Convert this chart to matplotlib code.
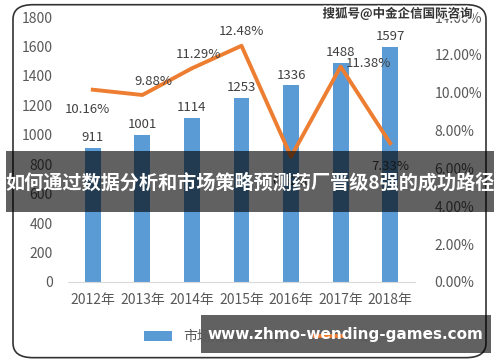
import matplotlib.pyplot as plt
from matplotlib.patches import FancyBboxPatch, Rectangle
import matplotlib.patheffects as pe

plt.rcParams['font.family'] = ['Noto Sans CJK SC', 'DejaVu Sans']

years = ['2012年', '2013年', '2014年', '2015年', '2016年', '2017年', '2018年']
market = [911, 1001, 1114, 1253, 1336, 1488, 1597]
growth = [10.16, 9.88, 11.29, 12.48, 6.62, 11.38, 7.33]
left_ticks = [0, 200, 400, 600, 800, 1000, 1200, 1400, 1600, 1800]
right_ticks = [0, 2, 4, 6, 8, 10, 12, 14]

# label offsets (points) for the growth labels
offsets = [(-4, -14), (8, 10), (5, 10), (0, 10), (0, -18), (20, 2), (0, -17)]

gray = '#595959'
fig = plt.figure(figsize=(5, 3.62), dpi=100)

# rounded frame
fig.patches.append(FancyBboxPatch((0.026, 0.012), 0.946, 0.975,
                                  boxstyle='round,pad=0,rounding_size=0.04',
                                  transform=fig.transFigure, fill=False,
                                  edgecolor='#333333', linewidth=1.2))

ax = fig.add_axes([0.136, 0.221, 0.694, 0.732])
x = list(range(len(years)))
bars = ax.bar(x, market, width=0.32, color='#5B9BD5', label='市场规模（亿元）', zorder=2)
for xi, v in zip(x, market):
    ax.text(xi, v + 25, str(v), ha='center', va='bottom', fontsize=9.5, color='#404040')

ax.set_xlim(-0.5, 6.5)
ax.set_ylim(0, 1800)
ax.set_yticks(left_ticks)
ax.set_xticks(x)
ax.set_xticklabels(years)
for s in ['top', 'right', 'left']:
    ax.spines[s].set_visible(False)
ax.spines['bottom'].set_color('#D9D9D9')
ax.tick_params(length=0, labelsize=10, colors=gray, pad=8)
ax.tick_params(axis='y', pad=11)

ax2 = ax.twinx()
line, = ax2.plot(x, growth, color='#ED7D31', linewidth=2.8, label='增长率', zorder=3)
ax2.set_ylim(0, 14)
ax2.set_yticks(right_ticks)
ax2.set_yticklabels([f'{t:.2f}%' for t in right_ticks])
for s in ax2.spines.values():
    s.set_visible(False)
ax2.tick_params(length=0, labelsize=10, colors=gray, pad=14)
for xi, g, off in zip(x, growth, offsets):
    ax2.annotate(f'{g:.2f}%', (xi, g), xytext=off, textcoords='offset points',
                 ha='center', va='center', fontsize=9.5, color='#404040')

fig.legend([bars, line], ['市场规模（亿元）', '增长率'], loc='center',
           bbox_to_anchor=(0.54, 0.07), ncol=2, frameon=False, fontsize=10,
           labelcolor=gray, handlelength=2, columnspacing=1.5)

# watermark top right
fig.text(0.945, 0.962, '搜狐号@中金企信国际咨询', ha='right', va='center',
         fontsize=9, fontweight='bold', color='#333333',
         path_effects=[pe.withStroke(linewidth=2, foreground='white')])

# title banner
fig.patches.append(Rectangle((0.012, 0.414), 0.976, 0.17, transform=fig.transFigure,
                             facecolor='black', alpha=0.62, zorder=5))
fig.text(0.5, 0.495, '如何通过数据分析和市场策略预测药厂晋级8强的成功路径',
         ha='center', va='center', fontsize=13.8, fontweight='bold',
         color='white', zorder=6)

# url banner
fig.patches.append(Rectangle((0.402, 0.025), 0.58, 0.105, transform=fig.transFigure,
                             facecolor='black', alpha=0.62, zorder=5))
fig.text(0.69, 0.077, 'www.zhmo-wending-games.com', ha='center', va='center',
         fontsize=11, fontweight='bold', color='white', zorder=6,
         family=['DejaVu Sans'])

fig.savefig('out.png', dpi=100)
